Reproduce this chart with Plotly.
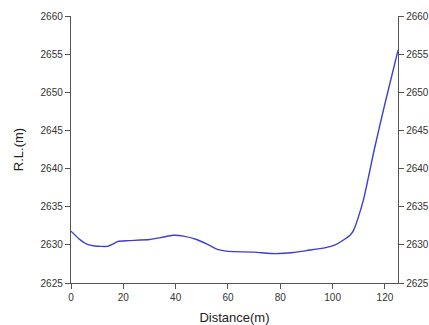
import plotly.graph_objects as go

distance = [0, 3, 6, 9, 14, 16, 18, 22, 30, 35, 39, 43, 48, 52, 56, 60, 70, 78, 85, 90, 97, 101, 104, 107, 108, 110, 112, 116, 120, 125]
rl = [2631.8, 2630.8, 2630.1, 2629.85, 2629.8, 2630.1, 2630.45, 2630.55, 2630.7, 2631.0, 2631.25, 2631.15, 2630.7, 2630.1, 2629.4, 2629.15, 2629.05, 2628.85, 2629.0, 2629.25, 2629.6, 2630.0, 2630.6, 2631.4, 2631.9, 2633.8, 2636.2, 2642.6, 2648.5, 2655.5]

x_ticks = [0, 20, 40, 60, 80, 100, 120]
y_ticks = [2625, 2630, 2635, 2640, 2645, 2650, 2655, 2660]

fig = go.Figure()
fig.add_trace(go.Scatter(x=distance, y=rl, mode="lines",
                         line=dict(color="rgb(60,60,215)", width=1.4, shape="spline", smoothing=0.5),
                         showlegend=False, hoverinfo="skip"))
fig.add_trace(go.Scatter(x=distance, y=rl, mode="lines", yaxis="y2",
                         line=dict(color="rgba(0,0,0,0)", width=0),
                         showlegend=False, hoverinfo="skip"))

axis_common = dict(showgrid=False, zeroline=False, showline=True, linecolor="#555",
                   linewidth=1.2, ticks="outside", ticklen=5, tickcolor="#555", tickwidth=1,
                   automargin=False,
                   tickfont=dict(family="Liberation Sans, Arial", size=10, color="#333"))

fig.update_layout(
    width=429, height=325,
    margin=dict(l=71, r=31, t=16, b=42),
    paper_bgcolor="white", plot_bgcolor="white",
    xaxis=dict(range=[0, 125], tickvals=x_ticks,
               title=dict(text="Distance(m)", font=dict(family="Liberation Sans, Arial", size=13, color="#222"), standoff=11),
               **axis_common),
    yaxis=dict(range=[2625, 2660], tickvals=y_ticks,
               title=dict(text="R.L.(m)", font=dict(family="Liberation Sans, Arial", size=13, color="#222"), standoff=14),
               **axis_common),
    yaxis2=dict(range=[2625, 2660], tickvals=y_ticks, overlaying="y", side="right",
                **axis_common),
)

fig.write_html("out.html", config={"displayModeBar": False, "staticPlot": True},
               post_script="document.body.style.margin='0';document.body.style.overflow='hidden';")
